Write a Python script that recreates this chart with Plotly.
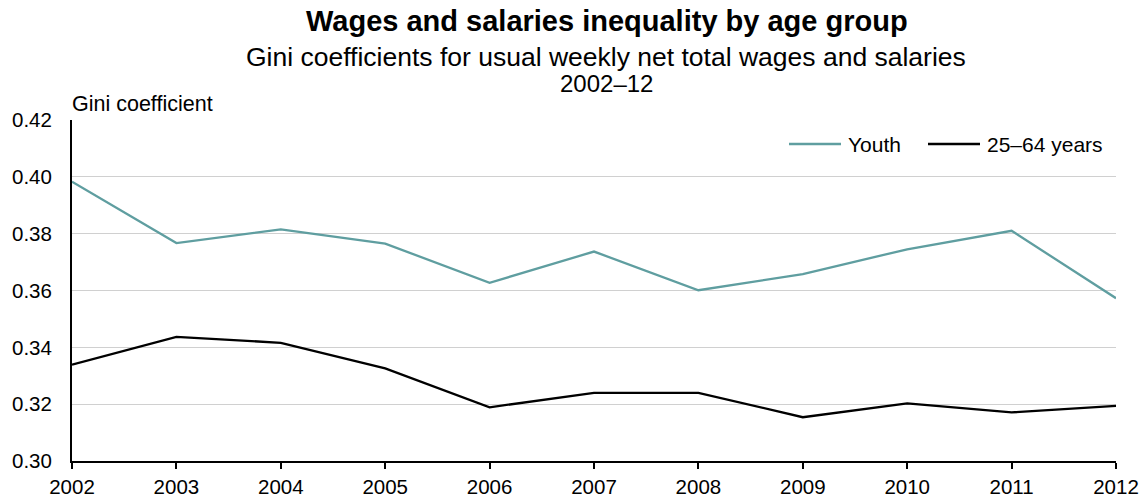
import plotly.graph_objects as go

years = [2002, 2003, 2004, 2005, 2006, 2007, 2008, 2009, 2010, 2011, 2012]
youth = [0.3983, 0.3767, 0.3815, 0.3765, 0.3627, 0.3737, 0.3601, 0.3658, 0.3745, 0.3810, 0.3573]
adults = [0.3339, 0.3437, 0.3416, 0.3326, 0.3189, 0.3240, 0.3240, 0.3154, 0.3203, 0.3171, 0.3194]
y_ticks = [0.30, 0.32, 0.34, 0.36, 0.38, 0.40, 0.42]

FONT = "Liberation Sans, Arial, sans-serif"
YOUTH_COLOR = "#5f9ea0"
ADULT_COLOR = "#000000"

W, H = 1144, 501
M_L, M_R, M_T, M_B = 72, 28, 120, 40
PLOT_W = W - M_L - M_R
PLOT_H = H - M_T - M_B


def px_x(px):
    """Pixel column -> paper x fraction."""
    return (px - M_L) / PLOT_W


def px_y(px):
    """Pixel row (from top) -> paper y fraction."""
    return (H - M_B - px) / PLOT_H


fig = go.Figure()
fig.add_trace(go.Scatter(x=years, y=youth, mode="lines", name="Youth",
                         line=dict(color=YOUTH_COLOR, width=2.3)))
fig.add_trace(go.Scatter(x=years, y=adults, mode="lines", name="25–64 years",
                         line=dict(color=ADULT_COLOR, width=2.3)))

# Legend drawn as short line samples with labels, in the top-right corner
legend_items = [("Youth", YOUTH_COLOR, 789), ("25–64 years", ADULT_COLOR, 928)]
shapes = []
legend_anns = []
for label, color, x0 in legend_items:
    shapes.append(dict(type="line", xref="paper", yref="paper",
                       x0=px_x(x0), x1=px_x(x0 + 52), y0=px_y(144), y1=px_y(144),
                       line=dict(color=color, width=2.3)))
    legend_anns.append(dict(text=label, xref="paper", yref="paper",
                            x=px_x(x0 + 57), xanchor="left", y=px_y(144), yanchor="middle",
                            showarrow=False, font=dict(size=21)))

fig.update_layout(
    width=W, height=H,
    margin=dict(l=M_L, r=M_R, t=M_T, b=M_B),
    paper_bgcolor="white", plot_bgcolor="white",
    font=dict(family=FONT, size=20, color="#000000"),
    showlegend=False,
    xaxis=dict(range=[2002, 2012], tickmode="array", tickvals=years,
               ticktext=[str(y) for y in years], automargin=False,
               showgrid=False, showline=True, linecolor="black", linewidth=2,
               ticks="outside", ticklen=6, tickwidth=2, tickcolor="black",
               zeroline=False, tickfont=dict(size=20.5)),
    yaxis=dict(range=[0.30, 0.42], tickmode="array", tickvals=y_ticks,
               ticktext=[f"{v:.2f}" for v in y_ticks], automargin=False,
               showgrid=True, gridcolor="#d0d0d0", gridwidth=1,
               showline=True, linecolor="black", linewidth=2,
               ticks="", ticklabelstandoff=14, zeroline=False,
               tickfont=dict(size=20.5)),
    shapes=shapes,
    annotations=[
        dict(text="<b>Wages and salaries inequality by age group</b>",
             xref="paper", x=px_x(607), yref="paper", y=px_y(21), yanchor="middle",
             showarrow=False, font=dict(size=29)),
        dict(text="Gini coefficients for usual weekly net total wages and salaries",
             xref="paper", x=px_x(606), yref="paper", y=px_y(57), yanchor="middle",
             showarrow=False, font=dict(size=26.5)),
        dict(text="2002–12", xref="paper", x=px_x(606), yref="paper", y=px_y(83),
             yanchor="middle", showarrow=False, font=dict(size=24)),
        dict(text="Gini coefficient", xref="paper", x=px_x(70), xanchor="left",
             yref="paper", y=px_y(104), yanchor="middle", showarrow=False,
             font=dict(size=21.5)),
    ] + legend_anns,
)

fig.write_html("out.html")
